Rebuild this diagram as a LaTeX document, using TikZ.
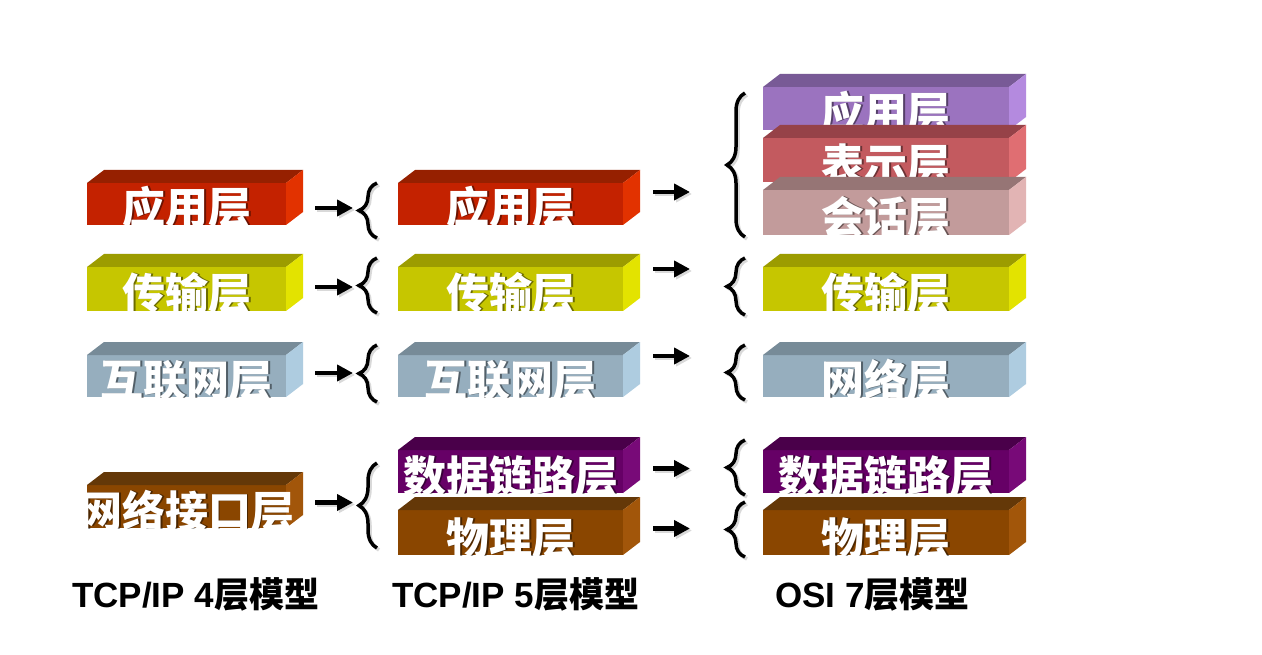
\documentclass[tikz,border=0pt]{standalone}
\usepackage{fontspec}
\setmainfont{Liberation Sans}
\newfontfamily\cjk{Noto Sans CJK SC}
\usetikzlibrary{arrows.meta,decorations.pathreplacing}
\definecolor{redF}{HTML}{C42200}\definecolor{redT}{HTML}{962000}\definecolor{redS}{HTML}{E23200}
\definecolor{yelF}{HTML}{C6C600}\definecolor{yelT}{HTML}{9C9C00}\definecolor{yelS}{HTML}{E3E300}
\definecolor{bluF}{HTML}{96AEBE}\definecolor{bluT}{HTML}{778B98}\definecolor{bluS}{HTML}{AECCE0}
\definecolor{brnF}{HTML}{8A4600}\definecolor{brnT}{HTML}{643808}\definecolor{brnS}{HTML}{A2560A}
\definecolor{purF}{HTML}{660066}\definecolor{purT}{HTML}{4A004A}\definecolor{purS}{HTML}{780A78}
\definecolor{vioF}{HTML}{9B73BF}\definecolor{vioT}{HTML}{785A96}\definecolor{vioS}{HTML}{B48ADF}
\definecolor{rosF}{HTML}{C35A5F}\definecolor{rosT}{HTML}{964248}\definecolor{rosS}{HTML}{E06E72}
\definecolor{pnkF}{HTML}{C29B9B}\definecolor{pnkT}{HTML}{967575}\definecolor{pnkS}{HTML}{E2B4B4}
\tikzset{
  face/.style={anchor=north west, inner sep=0pt, outer sep=0pt},
  boxtext/.style={anchor=base, inner sep=0pt, text=white, font=\cjk\bfseries\fontsize{43}{43}\selectfont},
  boxshadow/.style={boxtext, text=black, opacity=0.45},
  arr/.style={line width=4.5pt, -{Triangle[length=16pt,width=16pt]}},
  arrshadow/.style={arr, black!15},
  bracestyle/.style={line width=3.5pt, decorate, decoration={brace, amplitude=18pt}},
  braceshadow/.style={bracestyle, black!15},
  caption/.style={anchor=base west, inner sep=0pt, font=\bfseries\fontsize{35}{35}\selectfont},
}
% #1 name, #2 x1, #3 y1, #4 x2, #5 y2, #6 front, #7 top, #8 side, #9 text
\newcommand{\layerbox}[9]{%
  \node[face, fill=#6, minimum width={(#4-#2)*1pt}, minimum height={(#5-#3)*1pt}] (#1) at (#2,#3) {};
  \fill[#7] (#1.north west) -- ++(17,-13) -- ([shift={(17,-13)}]#1.north east) -- (#1.north east) -- cycle;
  \fill[#8] (#1.north east) -- ++(17,-13) -- ([shift={(17,-13)}]#1.south east) -- (#1.south east) -- cycle;
  \begin{scope}
    \clip (#1.south west) rectangle (#1.north east);
    \node[boxshadow] (#1s) at ([shift={(2,-1)}]#1.south) {#9};
  \end{scope}
  \node[boxtext] (#1t) at ([yshift=1pt]#1.south) {#9};
}
\newcommand{\capt}[3]{%
  \node[caption] (#1) at (#2,607) {#3};
}
\begin{document}
\begin{tikzpicture}[x=1pt, y=-1pt]
\useasboundingbox[fill=white] (0,0) rectangle (1262,655);
% TCP/IP 4
\layerbox{a1}{87}{183}{286}{225}{redF}{redT}{redS}{应用层}
\layerbox{a2}{87}{267}{286}{311}{yelF}{yelT}{yelS}{传输层}
\layerbox{a3}{87}{355}{286}{397}{bluF}{bluT}{bluS}{互联网层}
\layerbox{a4}{87}{485}{286}{528}{brnF}{brnT}{brnS}{网络接口层}
% TCP/IP 5
\layerbox{b1}{398}{183}{623}{225}{redF}{redT}{redS}{应用层}
\layerbox{b2}{398}{267}{623}{311}{yelF}{yelT}{yelS}{传输层}
\layerbox{b3}{398}{355}{623}{397}{bluF}{bluT}{bluS}{互联网层}
\layerbox{b4}{398}{450}{623}{493}{purF}{purT}{purS}{数据链路层}
\layerbox{b5}{398}{510}{623}{555}{brnF}{brnT}{brnS}{物理层}
% OSI 7
\layerbox{c1}{763}{87}{1009}{130}{vioF}{vioT}{vioS}{应用层}
\layerbox{c2}{763}{138}{1009}{182}{rosF}{rosT}{rosS}{表示层}
\layerbox{c3}{763}{190}{1009}{235}{pnkF}{pnkT}{pnkS}{会话层}
\layerbox{c4}{763}{267}{1009}{311}{yelF}{yelT}{yelS}{传输层}
\layerbox{c5}{763}{355}{1009}{397}{bluF}{bluT}{bluS}{网络层}
\layerbox{c6}{763}{450}{1009}{493}{purF}{purT}{purS}{数据链路层}
\layerbox{c7}{763}{510}{1009}{555}{brnF}{brnT}{brnS}{物理层}
% arrows 4 -> 5
\foreach \n/\dy in {a1/-4, a2/2, a3/3, a4/4}{
  \draw[arrshadow] ([xshift=31pt,yshift=\dy pt-2pt]\n.east) -- ++(38,0);
  \draw[arr] ([xshift=29pt,yshift=\dy pt]\n.east) -- ++(38,0);
}
% arrows 5 -> 7
\foreach \n/\dy in {b1/12, b2/20, b3/20, b4/3, b5/4}{
  \draw[arrshadow] ([xshift=32pt,yshift=\dy pt-2pt]\n.east) -- ++(37,0);
  \draw[arr] ([xshift=30pt,yshift=\dy pt]\n.east) -- ++(37,0);
}
% braces between 4 and 5
\foreach \lo/\hi in {238/183, 313/258, 402/345, 548/463}{
  \draw[braceshadow] (379,\lo+2) -- (379,\hi+2);
  \draw[bracestyle] (377,\lo) -- (377,\hi);
}
% braces before OSI
\foreach \lo/\hi in {237/93, 315/258, 400/345, 495/440, 557/502}{
  \draw[braceshadow] (747,\lo+2) -- (747,\hi+2);
  \draw[bracestyle] (745,\lo) -- (745,\hi);
}
% captions
\capt{l1}{72}{TCP/IP 4{\cjk\bfseries 层模型}}
\capt{l2}{392}{TCP/IP 5{\cjk\bfseries 层模型}}
\capt{l3}{775}{OSI 7{\cjk\bfseries 层模型}}
\end{tikzpicture}
\end{document}
